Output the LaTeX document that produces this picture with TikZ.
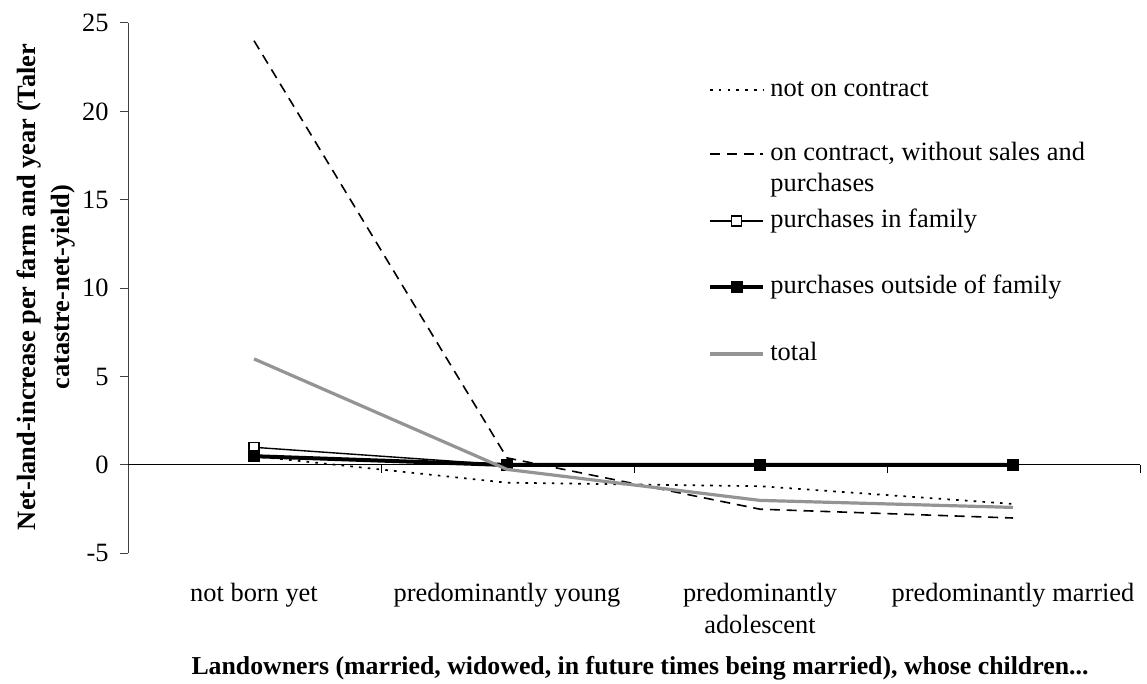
\documentclass[tikz,border=0pt]{standalone}
\usepackage{fontspec}
\setmainfont{Liberation Serif}
\begin{document}
\begin{tikzpicture}[x=0.5pt,y=-0.5pt,
  txt/.style={font=\fontsize{13.2}{16}\selectfont, inner sep=0pt},
  btxt/.style={font=\fontsize{13.2}{17}\selectfont\bfseries, inner sep=0pt},
  axisline/.style={line width=0.5pt, black},
  ytickline/.style={line width=0.5pt, black!75},
  ser dot/.style={line width=0.85pt, dash pattern=on 1.3pt off 3.1pt},
  ser dash/.style={line width=0.8pt, dash pattern=on 5pt off 3.4pt},
  ser fam/.style={line width=0.7pt},
  ser out/.style={line width=2pt},
  ser tot/.style={line width=1.6pt, color=black!42},
  opensq/.style={draw=black, fill=white, line width=0.6pt, minimum size=5pt, inner sep=0pt, rectangle},
  fillsq/.style={draw=black, fill=black, minimum size=5.5pt, inner sep=0pt, rectangle}
]
\useasboundingbox (0,0) rectangle (1147,684);

% axes
\draw[ytickline] (128,23) -- (128,553.4);
\foreach \yy/\lab in {23/25,111.4/20,199.8/15,288.2/10,376.6/5,465/0,553.4/-5}{
  \draw[ytickline] (120,\yy) -- (128,\yy);
  \node[txt, anchor=east] at (109,\yy) {\lab};
}
\draw[axisline] (128,465) -- (1140,465);
\foreach \xx in {381,634,887,1140}{
  \draw[axisline] (\xx,465) -- (\xx,473);
}

% category labels
\node[txt, anchor=base] (c1) at (254,601) {not born yet};
\node[txt, anchor=base] (c2) at (507,601) {predominantly young};
\node[txt, anchor=north, align=center] (c3) at (760,583) {predominantly\\adolescent};
\node[txt, anchor=base] (c4) at (1013,601) {predominantly married};

% axis titles
\node[btxt, font=\fontsize{12.9}{17}\selectfont\bfseries, anchor=base] (xt) at (640,674) {Landowners (married, widowed, in future times being married), whose children...};
\node[btxt, rotate=90, align=center] (yt) at (46,287) {Net-land-increase per farm and year (Taler\\catastre-net-yield)};

% data points
\coordinate (d1) at (254,456.2); \coordinate (d2) at (507,482.7);
\coordinate (d3) at (760,486.2); \coordinate (d4) at (1013,503.9);
\coordinate (e1) at (254,40.7);  \coordinate (e2) at (507,457.9);
\coordinate (e3) at (760,509.2); \coordinate (e4) at (1013,518);
\coordinate (f1) at (254,447.3); \coordinate (f2) at (507,465);
\coordinate (f3) at (760,465);   \coordinate (f4) at (1013,465);
\coordinate (g1) at (254,456.2); \coordinate (g2) at (507,465);
\coordinate (g3) at (760,465);   \coordinate (g4) at (1013,465);
\coordinate (t1) at (254,358.9); \coordinate (t2) at (507,469.4);
\coordinate (t3) at (760,500.4); \coordinate (t4) at (1013,507.4);

\draw[ser dot] (d1) -- (d2) -- (d3) -- (d4);
\draw[ser dash] (e1) -- (e2) -- (e3) -- (e4);
\draw[ser fam] (f1) -- (f2) -- (f3) -- (f4);
\foreach \p in {f1,f2,f3,f4} \node[opensq] at (\p) {};
\draw[ser out] (g1) -- (g2) -- (g3) -- (g4);
\foreach \p in {g1,g2,g3,g4} \node[fillsq] at (\p) {};
\draw[ser tot] (t1) -- (t2) -- (t3) -- (t4);

% legend
\coordinate (la1) at (710,90);  \coordinate (lb1) at (763,90);
\coordinate (la2) at (710,154); \coordinate (lb2) at (763,154);
\coordinate (la3) at (710,221); \coordinate (lb3) at (763,221);
\coordinate (la4) at (710,287); \coordinate (lb4) at (763,287);
\coordinate (la5) at (710,354); \coordinate (lb5) at (763,354);
\draw[ser dot] (la1) -- (lb1);
\draw[ser dash] (la2) -- (lb2);
\draw[ser fam] (la3) -- (lb3);
\node[opensq] (lm3) at (736.5,221) {};
\draw[ser out] (la4) -- (lb4);
\node[fillsq] (lm4) at (736.5,287) {};
\draw[ser tot] (la5) -- (lb5);

\node[txt, anchor=base west] (l1) at (770,97) {not on contract};
\node[txt, anchor=base west] (l2) at (770,161) {on contract, without sales and};
\node[txt, anchor=base west] (l2b) at (770,192) {purchases};
\node[txt, anchor=base west] (l3) at (770,228) {purchases in family};
\node[txt, anchor=base west] (l4) at (770,294) {purchases outside of family};
\node[txt, anchor=base west] (l5) at (770,361) {total};
\end{tikzpicture}
\end{document}
